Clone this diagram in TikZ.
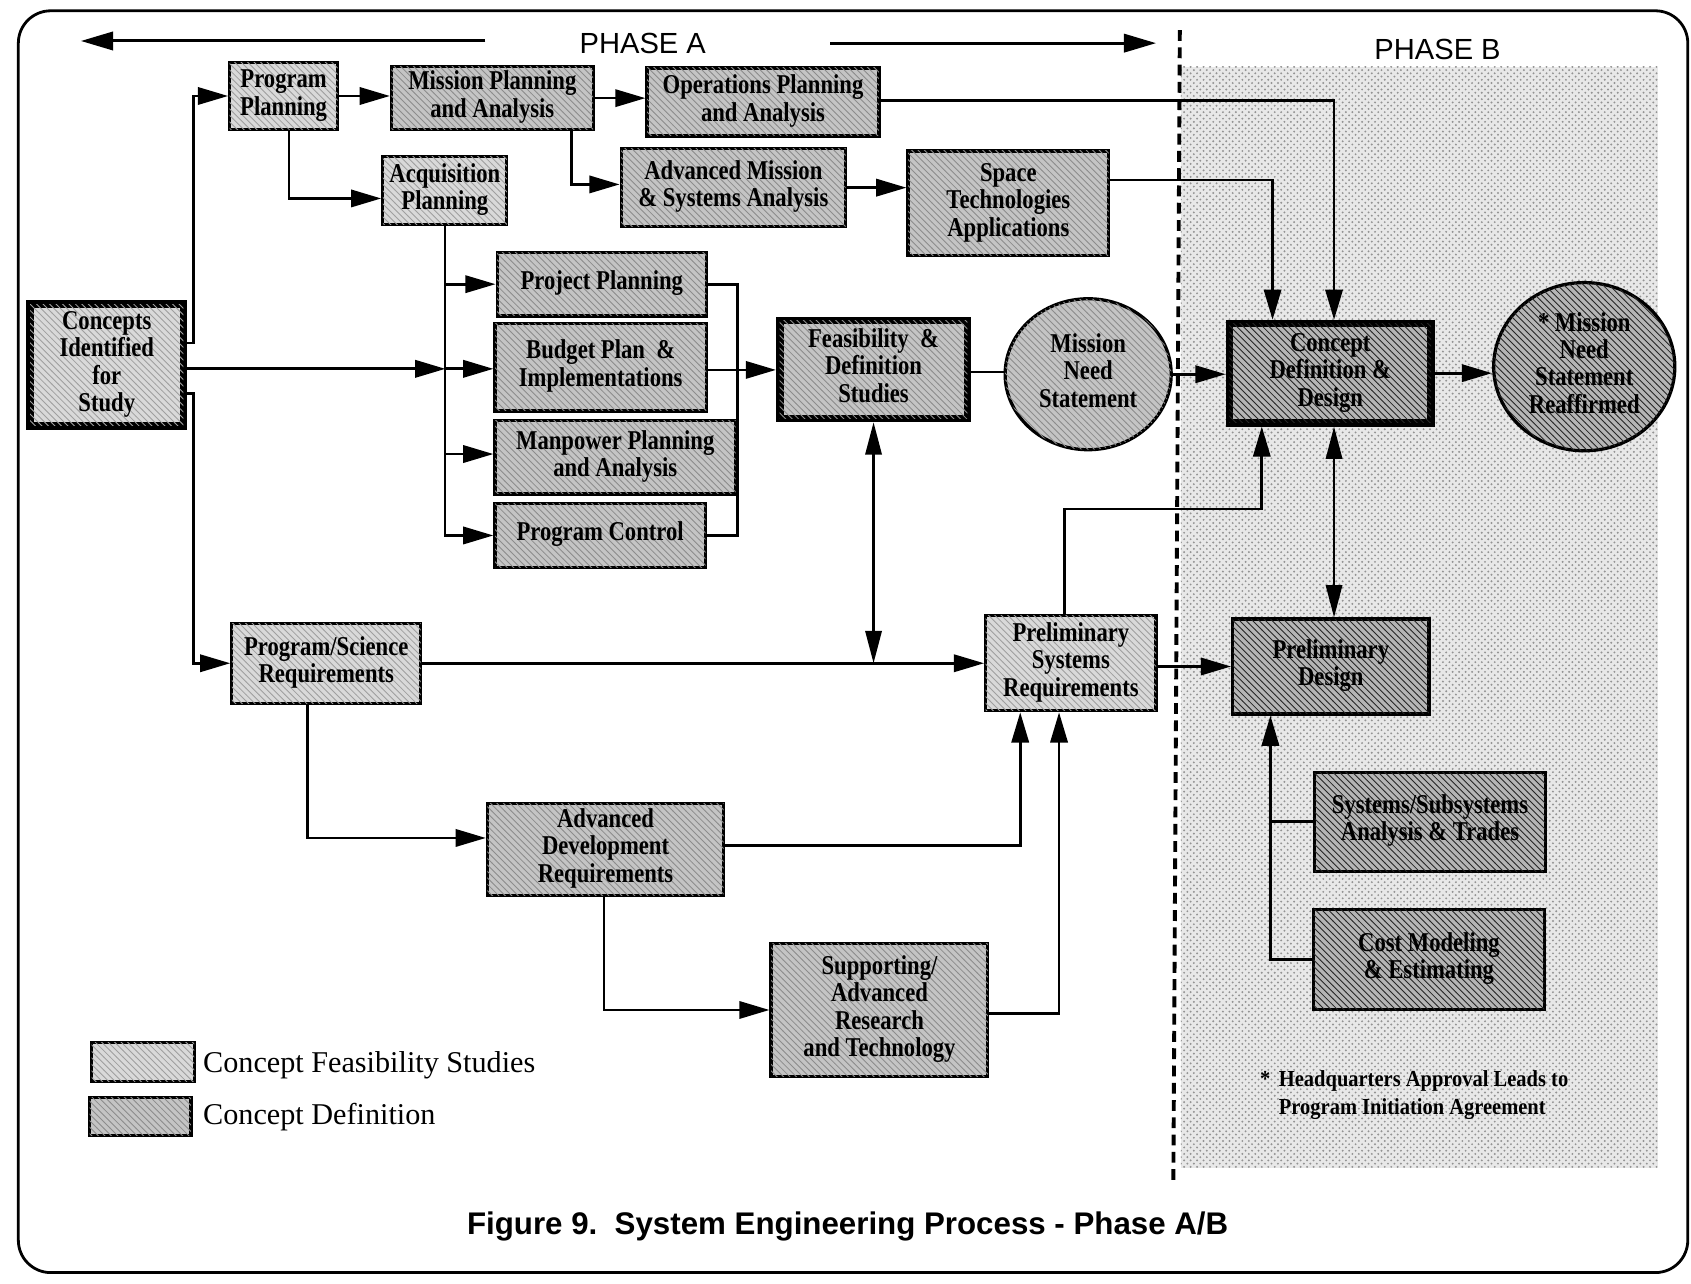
\documentclass[tikz,border=0pt]{standalone}
\usepackage{fontspec}
\setmainfont{Liberation Serif}
\newfontfamily\hdfont{Liberation Sans}
\usetikzlibrary{arrows.meta,shapes.geometric,patterns}

% box lettering: bold serif, slightly stretched vertically
\newcommand\boxfont{\fontsize{10.5}{10.6}\selectfont\bfseries}
\newcommand\bt[1]{\scalebox{1}[1.2]{\begin{tabular}{@{}c@{}}#1\end{tabular}}}
% \bnode{name}{x1}{y1}{x2}{y2}{style}{text}
\newcommand\bnode[7]{%
  \node[#6, minimum width={(#4-#2)*0.5pt}, minimum height={(#5-#3)*0.5pt}]
    (#1) at ({(#2+#4)/2},{(#3+#5)/2}) {\bt{#7}};}

\tikzset{
  box/.style={draw, line width=1.5pt, inner sep=1pt, font=\boxfont},
  hatch/.style={postaction={pattern=north west lines, pattern color=#1}},
  lite/.style={box, fill=gray!30, hatch=gray!75},
  mid/.style={box, fill=gray!46, hatch=gray!90},
  dark/.style={box, fill=gray!58, hatch=black!85},
  heavy/.style={line width=3.5pt},
  conn/.style={line width=1.25pt},
  arr/.style={conn, -{Triangle[length=14pt,width=8pt]}},
  darr/.style={conn, {Triangle[length=15pt,width=7.5pt]}-{Triangle[length=15pt,width=7.5pt]}},
  phasearr/.style={line width=1.4pt, -{Triangle[length=15pt,width=8.5pt]}},
}

\begin{document}
\begin{tikzpicture}[x=0.5pt,y=-0.5pt]
\useasboundingbox (0,0) rectangle (1568,1190);
\fill[white] (0,0) rectangle (1568,1190);

% frame
\draw[line width=1.3pt, rounded corners=15pt] (17,10) rectangle (1565,1180);

% phase B field and divider
\fill[gray!18, postaction={pattern=crosshatch dots, pattern color=gray!85}] (1095,62) rectangle (1537,1083);
\draw[line width=1.8pt, dash pattern=on 5pt off 3pt] (1094,28) -- (1088,1095);

% phase headings
\node[font=\hdfont\fontsize{13.5}{13.5}\selectfont] (phA) at (596,40) {PHASE A};
\node[font=\hdfont\fontsize{13.5}{13.5}\selectfont] (phB) at (1333,46) {PHASE B};
\coordinate (pAls) at (450,38);
\coordinate (pAl) at (75,38);
\coordinate (pArs) at (770,40);
\coordinate (pAr) at (1072,40);
\draw[phasearr] (pAls) -- (pAl);
\draw[phasearr] (pArs) -- (pAr);

% boxes
\bnode{concepts}{28}{282}{170}{395}{lite,heavy}{Concepts\\Identified\\for\\Study}
\bnode{progplan}{213}{58}{313}{120}{lite}{Program\\Planning}
\bnode{misplan}{363}{62}{550}{120}{mid}{Mission Planning\\and Analysis}
\bnode{opsplan}{600}{63}{815}{126}{mid}{Operations Planning\\and Analysis}
\bnode{acqplan}{355}{145}{470}{208}{lite}{Acquisition\\Planning}
\bnode{advmis}{576}{138}{784}{210}{mid}{Advanced Mission\\\& Systems Analysis}
\bnode{spacetech}{842}{140}{1028}{237}{mid}{Space\\Technologies\\Applications}
\bnode{projplan}{461}{234}{655}{293}{mid}{Project Planning}
\bnode{budget}{459}{300}{655}{381}{mid}{Budget Plan \ \&\\Implementations}
\bnode{manpower}{459}{390}{682}{458}{mid}{Manpower Planning\\and Analysis}
\bnode{progctrl}{459}{467}{654}{526}{mid}{Program Control}
\bnode{feas}{723}{297}{897}{388}{mid,heavy}{Feasibility \ \&\\Definition\\Studies}
\bnode{cdd}{1140}{300}{1327}{392}{dark,heavy}{Concept\\Definition \&\\Design}
\bnode{psreq}{215}{578}{390}{652}{lite}{Program/Science\\Requirements}
\bnode{prelsys}{914}{571}{1072}{659}{lite}{Preliminary\\Systems\\Requirements}
\bnode{preldes}{1143}{574}{1325}{662}{dark}{Preliminary\\Design}
\bnode{sysub}{1219}{716}{1433}{808}{dark}{Systems/Subsystems\\Analysis \& Trades}
\bnode{cost}{1218}{843}{1432}{936}{dark}{Cost Modeling\\\& Estimating}
\bnode{advdev}{452}{745}{671}{830}{mid}{Advanced\\Development\\Requirements}
\bnode{support}{715}{875}{916}{998}{mid}{Supporting/\\Advanced\\Research\\and Technology}

\node[mid, ellipse, minimum width=77pt, minimum height=70pt] (mns) at (1009,347)
  {\bt{Mission\\Need\\Statement}};
\node[dark, ellipse, minimum width=84pt, minimum height=78pt] (mnsr) at (1469,340)
  {\bt{*\ Mission\\Need\\Statement\\Reaffirmed}};

% connectors: top row
\draw[arr] (concepts.east |- 0,318) -- ++(6,0) |- (progplan.west);
\draw[arr] (progplan.east) -- (progplan.east -| misplan.west);
\draw[arr] (misplan.east) -- (misplan.east -| opsplan.west);
\draw[arr] (progplan.south -| 268,0) |- (acqplan.west |- 0,184);
\draw[arr] (misplan.south -| 530,0) |- (advmis.west |- 0,171);
\draw[arr] (advmis.east) -- (advmis.east -| spacetech.west);
\draw[arr] (opsplan.east |- 0,93) -| (cdd.north -| 1237,0);
\draw[arr] (spacetech.east |- 0,167) -| (cdd.north -| 1180,0);

% planning bus
\coordinate (busA) at (413,342);
\draw[arr] (concepts.east |- busA) -- (busA);
\draw[arr] (acqplan.south) -- (acqplan.south |- progctrl.west) -- (progctrl.west);
\draw[arr] (acqplan.south |- projplan.west) -- (projplan.west);
\draw[arr] (busA) -- (busA -| budget.west);
\draw[arr] (acqplan.south |- 0,421) -- (manpower.west |- 0,421);
\draw[conn] (projplan.east) -- (684,0 |- projplan.east) -- (684,0 |- progctrl.east) -- (progctrl.east);
\draw[arr] (budget.east |- 0,343) -- (feas.west |- 0,343);

% centre row
\draw[conn] (feas.east |- 0,345) -- (mns.west |- 0,345);
\draw[arr] (mns.east) -- (mns.east -| cdd.west);
\draw[arr] (cdd.east) -- (cdd.east -| mnsr.west);

% requirements flow
\draw[arr] (concepts.east |- 0,365) -- ++(6,0) |- (psreq.west);
\draw[arr] (psreq.east) -- (psreq.east -| prelsys.west);
\draw[darr] (feas.south) -- (feas.south |- psreq.east);
\draw[arr] (psreq.south -| 285,0) |- (advdev.west |- 0,777);
\draw[arr] (advdev.east |- 0,784) -| (prelsys.south -| 946,0);
\draw[arr] (advdev.south -| 560,0) |- (support.west);
\draw[arr] (support.east |- 0,940) -| (prelsys.south -| 982,0);
\draw[arr] (prelsys.north -| 987,0) |- (1170,472) -- (cdd.south -| 1170,0);

% phase B links
\draw[darr] (cdd.south -| 1237,0) -- (preldes.north -| 1237,0);
\draw[arr] (prelsys.east |- 0,618) -- (preldes.west |- 0,618);
\draw[conn] (sysub.west) -- (sysub.west -| 1178,0);
\draw[arr] (cost.west) -| (preldes.south -| 1178,0);

% footnote
\node[anchor=west, inner sep=0, font=\bfseries\fontsize{9.5}{11.5}\selectfont] (fn) at (1168,1015)
  {\scalebox{1}[1.12]{\begin{tabular}{@{}l@{\hspace{4pt}}l@{}}*&Headquarters Approval Leads to\\&Program Initiation Agreement\end{tabular}}};

% legend
\node[lite, minimum width=47.5pt, minimum height=18pt] (lg1) at (132.5,985) {};
\node[mid, minimum width=47pt, minimum height=17.5pt] (lg2) at (130,1035.5) {};
\node[anchor=west, inner sep=0, font=\fontsize{14}{14}\selectfont] (lg1t) at (188,988) {Concept Feasibility Studies};
\node[anchor=west, inner sep=0, font=\fontsize{14}{14}\selectfont] (lg2t) at (188,1036) {Concept Definition};

% caption
\node[font=\hdfont\bfseries\fontsize{14.5}{14.5}\selectfont] (cap) at (786,1137)
  {Figure 9.\ \ System Engineering Process - Phase A/B};
\end{tikzpicture}
\end{document}
